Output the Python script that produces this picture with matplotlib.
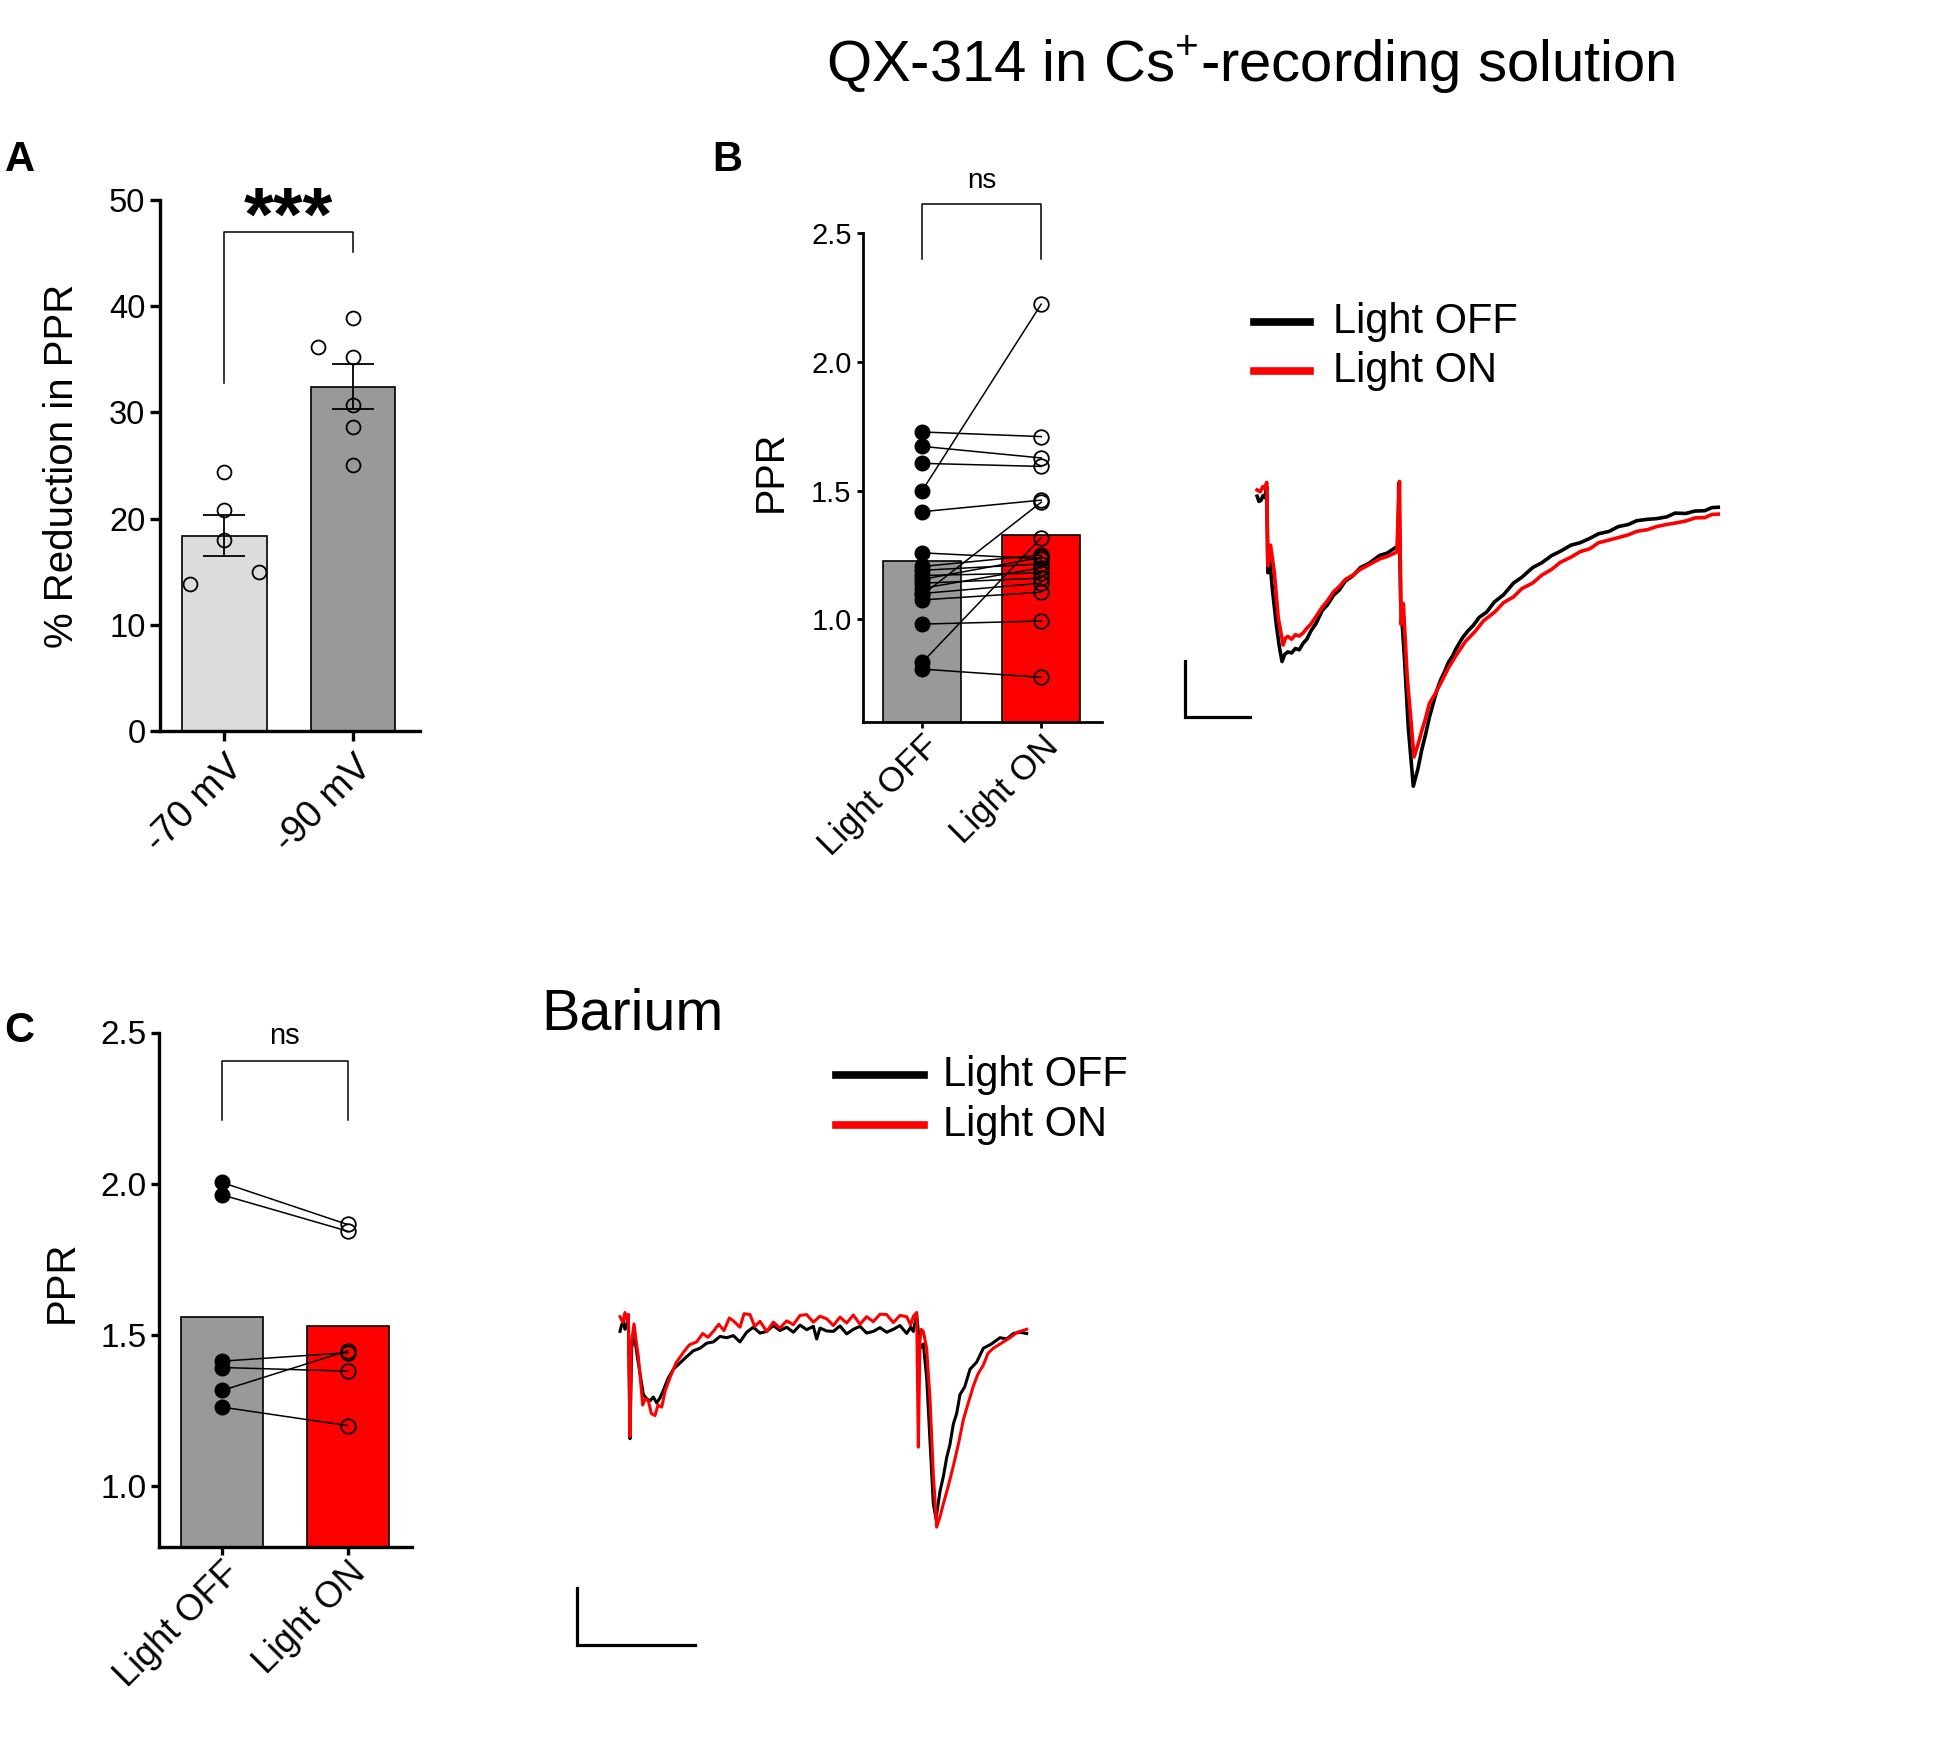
import matplotlib
matplotlib.use('Agg')
import matplotlib.pyplot as plt
from matplotlib.lines import Line2D
import numpy as np

plt.rcParams['font.family'] = ['Liberation Sans', 'DejaVu Sans']
plt.rcParams['mathtext.fontset'] = 'custom'
plt.rcParams['mathtext.rm'] = 'Liberation Sans'
plt.rcParams['mathtext.bf'] = 'Liberation Sans:bold'

# ---------------- data ----------------
# A: % reduction in PPR at two holding potentials
a_groups = ['-70 mV', '-90 mV']
a_m70 = [24.4, 20.8, 18.0, 13.8, 15.0]
a_m90 = [38.9, 36.2, 35.2, 30.7, 28.6, 25.0]

# B: PPR with QX-314 in Cs+ solution, paired cells
b_off = [1.728, 1.672, 1.606, 1.500, 1.418, 1.258, 0.981, 0.832, 0.806,
         1.205, 1.190, 1.170, 1.155, 1.140, 1.120, 1.100, 1.094, 1.075]
b_on = [1.710, 1.627, 1.594, 2.225, 1.463, 1.235, 0.993, 1.317, 0.774,
        1.250, 1.215, 1.180, 1.240, 1.160, 1.200, 1.140, 1.455, 1.105]

# C: PPR in barium, paired cells
c_off = [2.004, 1.963, 1.413, 1.392, 1.316, 1.261]
c_on = [1.865, 1.843, 1.441, 1.380, 1.447, 1.200]

light_labels = ['Light OFF', 'Light ON']

# example traces, QX-314 (time ms, current pA)
qx_t_off = [0, 1.2, 2.5, 3.7, 5, 6.25, 7, 8, 10, 12.5, 14.5, 16.25, 18, 20, 22.5, 25,
            27.5, 30, 32.5, 35, 38.5, 42.5, 46, 50, 53.5, 57.5, 62.5, 67.5, 73, 80,
            85, 90, 92, 92.5, 93.75, 96.25, 98.75, 102, 105, 107.5, 110, 112.5, 115,
            117.5, 120, 122.5, 125, 127.5, 130, 134, 137.5, 141, 145, 150, 155, 161,
            167.5, 173, 180, 186, 192.5, 198, 205, 211, 217.5, 223, 230, 236, 242.5,
            248, 255, 261, 267.5, 273, 280, 286, 292.5, 297, 301.25]
qx_i_off = [-0.3, -1.8, -1.5, -0.2, -0.7, 2.5, -22.5, -17.5, -27.5, -37.5, -44,
            -48.3, -46.2, -45.5, -45.8, -44.5, -44.9, -43, -41.8, -39.5, -37.2,
            -33.5, -31.8, -29, -27.6, -25, -23.4, -21, -19.8, -17.5, -16.8, -15.3,
            -15, 3.5, -30.5, -47.5, -67.5, -84.5, -79.5, -74, -69.5, -64.5, -60.5,
            -56.5, -53.5, -51.2, -48.5, -46.8, -44.5, -41.5, -39.5, -37.9, -35.5,
            -33.9, -31, -28.9, -25.5, -23.8, -21, -19.6, -17.5, -16.3, -14.5,
            -13.8, -12.5, -11.2, -10.5, -9.1, -8.5, -7.4, -7, -6.8, -6.3, -5.2,
            -5.3, -4.6, -4.5, -3.6, -3.5]
qx_t_on = [0, 2, 3.75, 5, 6.25, 7, 8.75, 11.25, 13.75, 17, 18.5, 20, 22.5, 25, 27.5,
           30, 32.5, 35, 38.5, 42.5, 46, 50, 53.5, 57.5, 62.5, 67.5, 73, 80, 85,
           91.25, 93, 94, 95.5, 98, 102.5, 105, 107.5, 110, 112.5, 116, 120, 125,
           130, 136, 142.5, 148, 155, 161, 167.5, 173, 180, 186, 192.5, 198, 205,
           211, 217.5, 223, 230, 236, 242.5, 248, 255, 261, 267.5, 273, 280, 286,
           292.5, 297, 301.25]
qx_i_on = [1.5, 1.0, 2.5, 2.0, 3.7, -20.5, -14.5, -22.5, -35.5, -43.5, -41.5, -41,
           -41.8, -40.5, -40.9, -40, -38.6, -37.5, -35.2, -32.5, -30.6, -28, -26.6,
           -24.5, -23.2, -21.5, -20.2, -18.5, -17.8, -16.5, 4, -37.5, -31.5, -52.5,
           -76, -72.5, -68.5, -64.8, -60.5, -57.9, -54.5, -50.1, -46.5, -42.5,
           -39.5, -36.4, -34, -31.2, -29.5, -27.1, -25.5, -23.2, -21.5, -19.5, -18,
           -16.4, -15.5, -13.8, -13, -12.3, -11.5, -10.5, -10, -9.1, -8.5, -8.1,
           -7.5, -6.6, -6.5, -5.6, -5.5]

# example traces, barium (time ms, current pA)
ba_t_off = [0, 1.2, 2.5, 3.7, 5, 6.25, 7.5, 8.75, 10, 11.25, 13, 15, 17.5, 20, 22.5,
            25, 27.5, 30, 32.5, 36, 40, 45, 50, 55, 60, 65, 70, 75, 80, 85, 90, 95,
            100, 105, 110, 115, 120, 125, 130, 135, 140, 145, 147.5, 150, 155, 160,
            165, 170, 175, 180, 185, 190, 195, 200, 205, 210, 215, 218, 220, 222.5,
            225, 227.5, 230, 232.5, 235, 237, 240, 242.5, 245, 247.5, 250, 252.5,
            255, 258.5, 262.5, 267.5, 272.5, 278, 285, 290, 295, 300, 305]
ba_i_off = [-2, -0.5, 0.5, -1.5, -1, 2, -27.5, -6, -3.5, -4, -8, -12, -17, -18,
            -18.5, -17.6, -19, -17.8, -16, -13.2, -11, -9.5, -8, -6.6, -6, -4.8,
            -4.5, -3.2, -3.5, -3.0, -4.5, -2.2, -1, -2.4, -2, -0.6, -1.8, -1, -2.2,
            -0.5, -1.6, -0.8, -3.8, -1.2, -1.9, -2, -0.7, -2.6, -1.5, -0.8, -2.4,
            -2, -1.1, -2.2, -1.5, -0.6, -2.5, -1, -2, 2, -6, -5, -13, -28, -43,
            -46.5, -40, -36.5, -32, -28.8, -24, -21.5, -17, -15.2, -11, -9.3, -6,
            -5.1, -3.5, -3.8, -2.5, -2.2, -2.5]
ba_t_on = [0, 2, 3.75, 5, 6.25, 7.5, 8.5, 10.5, 12, 13.75, 15.5, 17, 19, 21.25, 23.5,
           26.25, 28.5, 31.25, 34, 37.5, 42, 47.5, 52, 57.5, 62, 66, 70, 74, 78, 82,
           85, 90, 93, 97.5, 101, 105, 110, 115, 120, 125, 130, 135, 140, 145, 150,
           155, 160, 165, 170, 175, 180, 185, 190, 195, 200, 205, 210, 215, 218,
           220, 222.5, 223.75, 225, 226, 227.5, 230, 232.5, 235, 237.5, 240, 242.5,
           246, 250, 254, 257.5, 261, 265, 268.5, 272.5, 276, 280, 286, 292.5, 298,
           305]
ba_i_on = [1.5, 0.2, 2.5, 0.8, 2, -27, -5, -0.2, -4, -8, -14, -19.5, -18, -18.5,
           -21.5, -22, -19.5, -20, -16, -13, -9.5, -7, -5.2, -4.5, -2.5, -3.4, -2,
           -0.3, -1.8, 1.2, 0.5, -1.0, 2.2, 2, -0.8, 0.4, -2, 0.2, -1.2, 0.5, -0.4,
           1.8, 2, 0.2, 1.6, 1, -0.6, 1.4, 0, 1.9, -0.3, 1.5, 0.3, 2.1, 2, 0.1,
           1.8, 1.5, -0.5, 1.6, 2.5, -29.5, -4, -1.5, -2, -6, -18, -36, -48.5, -46,
           -43, -39, -34, -28.5, -23, -19.2, -15, -12.1, -10, -7.2, -6, -4.8, -3.5,
           -2.2, -1.5]

W, H = 1956, 1743
fig = plt.figure(figsize=(W / 100, H / 100), dpi=100)


def rect(x0, y0, x1, y1):
    return [x0 / W, 1 - y1 / H, (x1 - x0) / W, (y1 - y0) / H]


def style_axis(ax, lw, tick_len, label_size):
    for s in ['top', 'right']:
        ax.spines[s].set_visible(False)
    for s in ['left', 'bottom']:
        ax.spines[s].set_linewidth(lw)
    ax.tick_params(width=lw, length=tick_len, labelsize=label_size, direction='out')


def bracket(ax, y_left, y_top, y_right):
    ax.plot([0, 0, 1, 1], [y_left, y_top, y_top, y_right], color='black', lw=1.1,
            clip_on=False)


def paired_panel(ax, off, on, xt_size, pad):
    means = [np.mean(off), np.mean(on)]
    ax.bar([0, 1], means, width=0.655, color=['#999999', '#ff0000'],
           edgecolor='black', linewidth=1.2, zorder=1)
    for o, n in zip(off, on):
        ax.plot([0, 1], [o, n], color='black', lw=1.1, zorder=3)
    ax.plot(np.zeros(len(off)), off, 'o', color='black', ms=10.5, zorder=4)
    ax.plot(np.ones(len(on)), on, 'o', mfc='none', mec='black', ms=10.5, mew=1.3,
            zorder=4)
    ax.set_xticks([0, 1])
    ax.set_xticklabels(light_labels, rotation=45, ha='right', va='top',
                       rotation_mode='anchor', fontsize=xt_size)
    ax.tick_params(axis='x', pad=pad)


# ---------------- panel A ----------------
axA = fig.add_axes(rect(160, 200, 420, 731))
style_axis(axA, 2.4, 7, 23.5)
a_vals = [a_m70, a_m90]
a_mean = [np.mean(v) for v in a_vals]
a_sem = [np.std(v, ddof=1) / np.sqrt(len(v)) for v in a_vals]
axA.bar([0, 1], a_mean, width=0.655, color=['#dcdcdc', '#999999'],
        edgecolor='black', linewidth=1.2, zorder=1)
axA.errorbar([0, 1], a_mean, yerr=a_sem, fmt='none', ecolor='black',
             elinewidth=1.3, capsize=15, capthick=1.3, zorder=3)
a_jitter = [[0, 0, 0, -0.27, 0.27], [0, -0.27, 0, 0, 0, 0]]
for i, (v, j) in enumerate(zip(a_vals, a_jitter)):
    axA.plot(np.array(j) + i, v, 'o', mfc='none', mec='black', ms=10, mew=1.3,
             zorder=4)
axA.set_ylim(0, 50)
axA.set_yticks([0, 10, 20, 30, 40, 50])
axA.set_xlim(-0.5, 1.52)
axA.set_xticks([0, 1])
axA.set_xticklabels(a_groups, rotation=45, ha='right', va='top',
                    rotation_mode='anchor', fontsize=27)
axA.tick_params(axis='x', pad=6)
bracket(axA, 32.8, 46.96, 45.06)
axA.text(0.5, 46.3, '***', ha='center', va='baseline', fontsize=55,
         fontweight='bold', clip_on=False)
axA.text(-0.377, 0.5, '% Reduction in PPR', transform=axA.transAxes, rotation=90,
         ha='center', va='center', fontsize=29)

# ---------------- panel B ----------------
axB = fig.add_axes(rect(862.7, 233.4, 1101.7, 722.1))
style_axis(axB, 2.0, 4.5, 21)
paired_panel(axB, b_off, b_on, 25, 1)
axB.set_ylim(0.6, 2.5)
axB.set_yticks([1.0, 1.5, 2.0, 2.5])
axB.set_yticklabels(['1.0', '1.5', '2.0', '2.5'])
axB.set_xlim(-0.5, 1.508)
bracket(axB, 2.40, 2.615, 2.40)
axB.text(0.5, 2.705, 'ns', ha='center', va='center', fontsize=20, clip_on=False)
axB.text((771 - 862.7) / 239, (722.1 - 471.5) / 488.7, 'PPR',
         transform=axB.transAxes, rotation=90, ha='center', va='center',
         fontsize=28.5)

# ---------------- panel C ----------------
axC = fig.add_axes(rect(159.3, 1032.5, 412.3, 1546.5))
style_axis(axC, 2.4, 5.5, 24)
paired_panel(axC, c_off, c_on, 26, 1)
axC.set_ylim(0.8, 2.5)
axC.set_yticks([1.0, 1.5, 2.0, 2.5])
axC.set_yticklabels(['1.0', '1.5', '2.0', '2.5'])
axC.set_xlim(-0.5, 1.515)
bracket(axC, 2.21, 2.407, 2.21)
axC.text(0.5, 2.487, 'ns', ha='center', va='center', fontsize=21, clip_on=False)
axC.text((62 - 159.3) / 253, (1546.5 - 1282) / 514, 'PPR',
         transform=axC.transAxes, rotation=90, ha='center', va='center',
         fontsize=29)

# ---------------- traces ----------------
axT1 = fig.add_axes(rect(1150, 440, 1750, 860))
axT1.plot(qx_t_off, qx_i_off, color='black', lw=2.6)
axT1.plot(qx_t_on, qx_i_on, color='#ff0000', lw=2.6)
axT1.plot([-47, -47, -4.5], [-48, -64.5, -64.5], color='black', lw=2.3,
          solid_joinstyle='miter')
axT1.set_xlim(-70.0, 321.97)
axT1.set_ylim(-105.92, 16.03)
axT1.axis('off')

axT2 = fig.add_axes(rect(560, 1250, 1060, 1660))
axT2.plot(ba_t_off, ba_i_off, color='black', lw=2.2)
axT2.plot(ba_t_on, ba_i_on, color='#ff0000', lw=2.2)
axT2.plot([-32.5, -32.5, 56.25], [-63, -76.5, -76.5], color='black', lw=2.3,
          solid_joinstyle='miter')
axT2.set_xlim(-45, 330)
axT2.set_ylim(-80.07, 17.34)
axT2.axis('off')

# legends drawn by hand
for (x0, x1, xt, ys) in [(1254, 1310, 1333, (322, 371)), (836, 924, 943, (1075, 1125))]:
    for y, col, lab in zip(ys, ['black', '#ff0000'], light_labels):
        fig.add_artist(Line2D([x0 / W, x1 / W], [1 - y / H, 1 - y / H], color=col,
                              lw=5.5, transform=fig.transFigure))
        fig.text(xt / W, 1 - y / H, lab, ha='left', va='center', fontsize=30)

# titles and panel letters
fig.text(826 / W, 1 - 82 / H, r'QX-314 in Cs$^{+}$-recording solution', ha='left',
         va='baseline', fontsize=41.8)
fig.text(541 / W, 1 - 1030 / H, 'Barium', ha='left', va='baseline', fontsize=41.4)
for lab, x, y in [('A', 5, 171), ('B', 712, 171), ('C', 4, 1042)]:
    fig.text(x / W, 1 - y / H, lab, ha='left', va='baseline', fontsize=30,
             fontweight='bold')

fig.savefig('out.png', dpi=100, facecolor='white')
